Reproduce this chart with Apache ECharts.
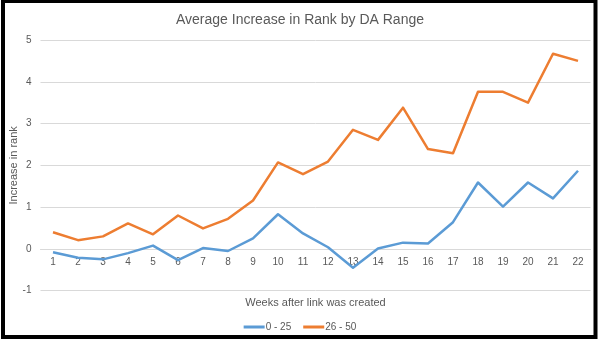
<!DOCTYPE html>
<html>
<head>
<meta charset="utf-8">
<script src="https://cdn.jsdelivr.net/npm/echarts@6/dist/echarts.min.js"></script>
<style>
  html, body { margin: 0; padding: 0; background: #fff; }
  #chart { width: 600px; height: 343px; }
</style>
</head>
<body>
<div id="chart"></div>
<script>
// Weeks after the link was created
const weeks = ['1','2','3','4','5','6','7','8','9','10','11','12','13','14','15','16','17','18','19','20','21','22'];
// Average rank increase, DA 0 - 25
const da0to25 = [-0.08, -0.21, -0.25, -0.10, 0.08, -0.27, 0.02, -0.05, 0.25, 0.83, 0.37, 0.04, -0.45, 0.01, 0.15, 0.13, 0.64, 1.59, 1.01, 1.59, 1.21, 1.87];
// Average rank increase, DA 26 - 50
const da26to50 = [0.40, 0.21, 0.30, 0.61, 0.35, 0.80, 0.49, 0.72, 1.16, 2.07, 1.79, 2.09, 2.85, 2.61, 3.38, 2.39, 2.29, 3.76, 3.76, 3.50, 4.67, 4.50];
const seriesNames = ['0 - 25', '26 - 50'];
const yMin = -1, yMax = 5;

const FONT = 'Liberation Sans';
const GREY = '#595959';

// plot box
const gridTop = 40, gridBottom = 52.3, chartH = 343;
const plotH = chartH - gridTop - gridBottom;
// lift the category axis up to the zero line
const zeroOffset = -plotH * (0 - yMin) / (yMax - yMin);

const chart = echarts.init(document.getElementById('chart'), null, { renderer: 'canvas' });
chart.setOption({
  animation: false,
  backgroundColor: '#fff',
  textStyle: { fontFamily: FONT },
  title: {
    text: 'Average Increase in Rank by DA Range',
    left: 'center',
    top: 8,
    textStyle: { fontFamily: FONT, fontSize: 14, fontWeight: 'normal', color: GREY }
  },
  legend: {
    bottom: 6,
    left: 'center',
    itemWidth: 21,
    itemHeight: 3,
    itemGap: 12,
    icon: 'rect',
    textStyle: { fontFamily: FONT, fontSize: 10, color: GREY, padding: [0, 0, 0, -4] },
    data: seriesNames
  },
  grid: {
    left: 40.5, right: 9.5, top: gridTop, bottom: gridBottom,
    containLabel: false,
    outerBoundsMode: 'none'
  },
  xAxis: {
    type: 'category',
    data: weeks,
    boundaryGap: true,
    position: 'bottom',
    offset: zeroOffset,
    name: 'Weeks after link was created',
    nameLocation: 'middle',
    nameGap: 49,
    nameMoveOverlap: false,
    nameTextStyle: { fontFamily: FONT, fontSize: 11, color: GREY },
    axisLine: { onZero: false, lineStyle: { color: '#D9D9D9', width: 1 } },
    axisTick: { show: false },
    axisLabel: { fontFamily: FONT, fontSize: 10, color: GREY, margin: 8, interval: 0 }
  },
  yAxis: {
    type: 'value',
    min: yMin,
    max: yMax,
    interval: 1,
    axisLine: { show: false },
    axisTick: { show: false },
    axisLabel: { fontFamily: FONT, fontSize: 10, color: GREY, margin: 9 },
    splitLine: { lineStyle: { color: '#D9D9D9', width: 1 } }
  },
  series: [
    {
      name: seriesNames[0],
      type: 'line',
      data: da0to25,
      symbol: 'none',
      lineStyle: { color: '#5B9BD5', width: 2.5, join: 'round' },
      itemStyle: { color: '#5B9BD5' }
    },
    {
      name: seriesNames[1],
      type: 'line',
      data: da26to50,
      symbol: 'none',
      lineStyle: { color: '#ED7D31', width: 2.5, join: 'round' },
      itemStyle: { color: '#ED7D31' }
    }
  ],
  graphic: [
    {
      // vertical axis title, centred on the plot height
      type: 'text',
      x: 14,
      y: gridTop + plotH / 2,
      rotation: Math.PI / 2,
      style: {
        text: 'Increase in rank',
        fontFamily: FONT,
        fontSize: 11,
        fill: GREY,
        align: 'center',
        verticalAlign: 'middle'
      },
      silent: true
    },
    {
      type: 'rect',
      shape: { x: 3, y: 1, width: 592.5, height: 336 },
      style: { fill: null, stroke: '#000', lineWidth: 4 },
      silent: true,
      z: 100
    }
  ]
});
</script>
</body>
</html>
